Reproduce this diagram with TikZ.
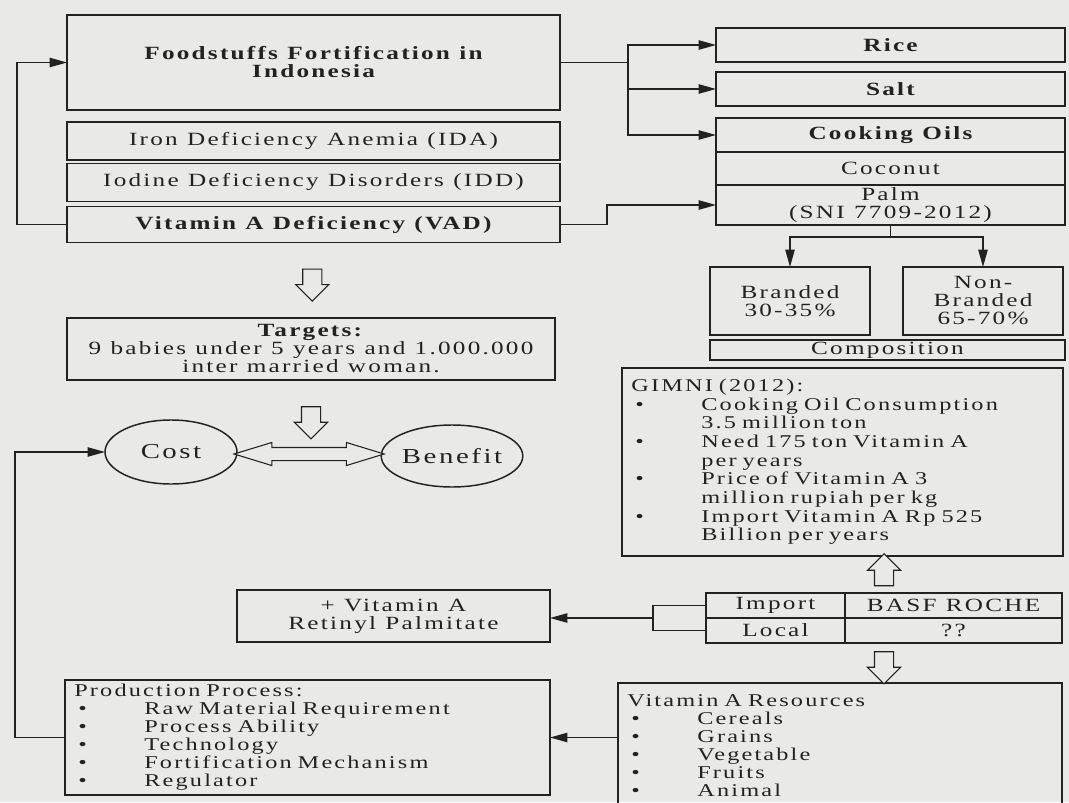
\documentclass[tikz,border=0pt]{standalone}
\usepackage{fontspec}
\setmainfont{Liberation Serif}[FakeStretch=1.35,LetterSpace=12]
\usepackage{tikz}
\usetikzlibrary{arrows.meta,positioning,shapes.geometric,shapes.arrows,calc}

\definecolor{paper}{RGB}{233,233,231}
\definecolor{ink}{RGB}{34,34,34}

\newcommand{\wsp}{\spaceskip=7pt plus 1pt\relax}
\newcommand{\fsize}{\fontsize{14pt}{13.5pt}\selectfont\wsp}
\newcommand{\itm}{\hspace*{3pt}\makebox[49.5pt][l]{\textbullet}}
\newcommand{\cnt}{\hspace*{52.5pt}}

\begin{document}
\begin{tikzpicture}[
    x=0.75pt, y=-0.75pt,
    every node/.style={font=\fsize, text=ink},
    block/.style={draw=ink, line width=1.1pt, align=center, inner sep=2pt, outer sep=0pt},
    list/.style={block, align=left, inner xsep=7pt},
    oval/.style={draw=ink, line width=1.1pt, ellipse, inner sep=0pt, outer sep=0pt, font=\fontsize{16pt}{18pt}\selectfont\wsp},
    arrow/.style={-{Triangle[length=13pt,width=7pt]}, line width=1pt, draw=ink},
    line/.style={line width=1pt, draw=ink},
    hollow/.style={single arrow, draw=ink, fill=paper, line width=0.8pt, inner xsep=2pt, inner ysep=6.75pt, single arrow head extend=5.25pt, minimum height=24pt},
    twoway/.style={double arrow, draw=ink, fill=paper, line width=0.8pt, inner xsep=0pt, inner ysep=4.5pt, double arrow head extend=3.75pt, double arrow tip angle=34, minimum height=112.5pt}
]
\fill[paper] (0,0) rectangle (1069,802);
\useasboundingbox (0,0) rectangle (1069,802);

% left column
\node[block, anchor=north west, minimum width=369.75pt, minimum height=71.25pt, font=\fsize\bfseries] (food) at (67,15) {Foodstuffs Fortification in\\Indonesia};
\node[block, below=9pt of food, minimum width=369.75pt, minimum height=28.5pt] (ida) {Iron Deficiency Anemia (IDA)};
\node[block, below=2.5pt of ida, minimum width=369.75pt, minimum height=28.5pt] (idd) {Iodine Deficiency Disorders (IDD)};
\node[block, below=4pt of idd, minimum width=369.75pt, minimum height=27pt, font=\fsize\bfseries] (vad) {Vitamin A Deficiency (VAD)};

\node[block, anchor=north west, minimum width=366pt, minimum height=46.5pt] (targets) at (67,318) {\textbf{Targets:}\\9 babies under 5 years and 1.000.000\\inter married woman.};

\node[oval, minimum width=99pt, minimum height=48pt] (cost) at (171,452) {Cost};
\node[oval, minimum width=97.5pt, minimum height=46.5pt] (benefit) at (452,456) {Benefit};

\node[block, anchor=north west, minimum width=234.75pt, minimum height=39pt] (retinyl) at (237,590) {+ Vitamin A\\Retinyl Palmitate};

\node[list, anchor=north west, minimum width=363.75pt, minimum height=86.25pt, text width=349.75pt, font=\fontsize{13.5pt}{13.5pt}\selectfont\wsp] (prod) at (65,680) {Production Process:\\
\itm Raw Material Requirement\\
\itm Process Ability\\
\itm Technology\\
\itm Fortification Mechanism\\
\itm Regulator};

% right column
\node[block, anchor=north west, minimum width=261.75pt, minimum height=25.5pt, font=\fsize\bfseries] (rice) at (716,28) {Rice};
\node[block, anchor=north west, minimum width=261.75pt, minimum height=25.5pt, font=\fsize\bfseries] (salt) at (716,72) {Salt};
\node[block, anchor=north west, minimum width=261.75pt, minimum height=25.5pt, font=\fsize\bfseries] (oils) at (716,118) {Cooking Oils};
\node[block, below=0pt of oils, minimum width=261.75pt, minimum height=24.75pt] (coconut) {Coconut};
\node[block, below=0pt of coconut, minimum width=261.75pt, minimum height=30pt, inner ysep=1pt] (palm) {Palm\\(SNI 7709-2012)};

\node[block, anchor=north west, minimum width=120pt, minimum height=51pt] (branded) at (710,267) {Branded\\30-35\%};
\node[block, anchor=north west, minimum width=120pt, minimum height=51pt] (nonbranded) at (903,267) {Non-\\Branded\\65-70\%};
\node[block, anchor=north west, minimum width=266.25pt, minimum height=15pt, inner ysep=0pt] (comp) at (710,340) {Composition};

\node[list, anchor=north west, minimum width=330.75pt, minimum height=141pt, text width=316.75pt, font=\fontsize{13.5pt}{14pt}\selectfont\wsp] (gimni) at (622,368) {GIMNI (2012):\\
\itm Cooking Oil Consumption\\
\cnt 3.5 million ton\\
\itm Need 175 ton Vitamin A\\
\cnt per years\\
\itm Price of Vitamin A 3\\
\cnt million rupiah per kg\\
\itm Import Vitamin A Rp 525\\
\cnt Billion per years};

\node[block, anchor=north west, minimum width=104.25pt, minimum height=18.75pt, inner ysep=0pt] (imp) at (706,593) {Import};
\node[block, right=0pt of imp, minimum width=162.75pt, minimum height=18.75pt, inner ysep=0pt] (basf) {BASF ROCHE};
\node[block, below=0pt of imp, minimum width=104.25pt, minimum height=18.75pt, inner ysep=0pt] (loc) {Local};
\node[block, below=0pt of basf, minimum width=162.75pt, minimum height=18.75pt, inner ysep=0pt] (unk) {??};

\node[list, anchor=north west, minimum width=333pt, minimum height=93.75pt, text width=319pt, font=\fontsize{13.5pt}{13.5pt}\selectfont\wsp] (res) at (618,683) {Vitamin A Resources\\
\itm Cereals\\
\itm Grains\\
\itm Vegetable\\
\itm Fruits\\
\itm Animal};

% hollow arrows
\coordinate (tabtop) at ($(imp.north west)!0.5!(basf.north east)$);
\coordinate (tabbot) at ($(loc.south west)!0.5!(unk.south east)$);
\node[hollow, rotate=-90] (down1) at ($(vad.south)!0.5!(targets.north)$) {};
\node[hollow, rotate=-90] (down2) at ([yshift=-28.5pt]targets.south) {};
\node[hollow, rotate=90] (up1) at ($(tabtop)!0.5!(tabtop |- gimni.south)$) {};
\node[hollow, rotate=-90] (down3) at ($(tabbot)!0.5!(tabbot |- res.north)$) {};
\node[twoway] (both) at ($(cost.east)!0.5!(benefit.west)$) {};

% connectors
\draw[arrow] (vad.west) -- ++(-50,0) |- (food.west);
\coordinate (fork) at ($(food.east)+(68,0)$);
\draw[line] (food.east) -- (fork);
\draw[arrow] (fork) |- (rice.west);
\draw[arrow] (fork) |- (salt.west);
\draw[arrow] (fork) |- (oils.west);
\draw[arrow] (vad.east) -- ++(47,0) |- (palm.west);
\draw[line] (palm.south) -- ++(0,12) coordinate (split);
\draw[arrow] (split) -| (branded.north);
\draw[arrow] (split) -| (nonbranded.north);

\draw[line] (imp.west) -- ++(-53,0) coordinate (b1) -- (b1 |- loc.west) -- (loc.west);
\coordinate (bmid) at ($(b1)!0.5!(b1 |- loc.west)$);
\draw[arrow] (bmid) -- (bmid -| retinyl.east);
\draw[arrow] (res.west |- prod.east) -- (prod.east);
\draw[arrow] (prod.west) -- ++(-50,0) |- (cost.west);
\end{tikzpicture}
\end{document}
